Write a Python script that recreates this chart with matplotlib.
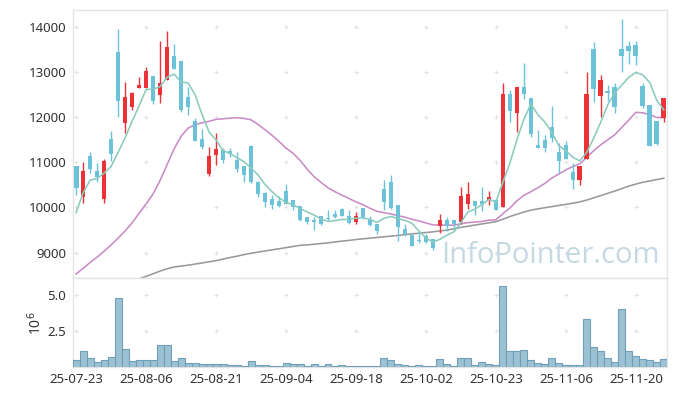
import matplotlib
matplotlib.use("Agg")
import matplotlib.pyplot as plt
import numpy as np

plt.rcParams['font.family'] = ['Noto Sans', 'DejaVu Sans']

# daily OHLC (trading days, 25-07-23 .. 25-11-26)
opens = [10918, 10236, 11147, 10806, 10184, 11517, 13451, 11880, 12236, 12658,
         12658, 12917, 12503, 12836, 13362, 13251, 12443, 11917, 11517, 10740,
         11162, 11273, 11243, 11051, 10925, 11362, 10569, 10325, 10184, 10140,
         10362, 10162, 10029, 9784, 9718, 9821, 9777, 9851, 9962, 9821,
         9673, 9984, 9718, 9629, 10406, 10562, 10051, 9533, 9384, 9273,
         9362, 9310, 9592, 9732, 9718, 9673, 10088, 10155, 10140, 10177,
         10177, 10014, 12517, 12103, 12673, 12429, 11392, 11495, 11792, 11236,
         11384, 10777, 10606, 11073, 13517, 12473, 12584, 12666, 13517, 13584,
         13614, 12695, 12273, 11917, 11991]
highs = [10930, 10999, 11236, 10977, 11073, 11695, 13954, 12777, 12570, 12888,
         13110, 12920, 13695, 13917, 13628, 13251, 12666, 11991, 11732, 11347,
         11658, 11310, 11310, 11236, 10925, 11384, 10590, 10347, 10273, 10251,
         10532, 10170, 10035, 9790, 9792, 9821, 9940, 9940, 9999, 9940,
         9910, 9984, 9807, 9629, 10606, 10717, 10051, 9629, 9384, 9481,
         9421, 9310, 9851, 9792, 9718, 10458, 10569, 10155, 10458, 10362,
         10199, 12754, 12606, 12680, 13214, 12429, 11717, 11606, 12260, 11421,
         11473, 10977, 10918, 12999, 13666, 12940, 12717, 12754, 14184, 13695,
         13703, 12770, 12273, 11917, 12429]
lows = [10273, 10103, 10755, 10569, 10103, 11036, 11999, 11658, 12162, 12658,
        12650, 12295, 12310, 12820, 13075, 12125, 12058, 11470, 11288, 10703,
        10940, 10977, 11110, 10792, 10555, 10533, 10236, 10014, 9977, 10014,
        10073, 9955, 9703, 9644, 9510, 9607, 9718, 9777, 9810, 9644,
        9644, 9755, 9584, 9421, 9940, 9970, 9251, 9362, 9147, 9214,
        9214, 9066, 9436, 9481, 9481, 9644, 9977, 9829, 9918, 10051,
        9940, 10000, 11888, 11666, 12399, 11555, 11320, 11236, 11458, 10755,
        11073, 10421, 10495, 11073, 12347, 11999, 12369, 12088, 13014, 13184,
        13162, 12199, 11362, 11384, 11903]
closes = [10436, 10806, 10858, 10680, 11029, 11184, 12369, 12451, 12540, 12717,
          13029, 12369, 12762, 13562, 13080, 12169, 12236, 11480, 11347, 11140,
          11288, 11051, 11184, 10851, 10717, 10569, 10295, 10118, 10051, 10029,
          10088, 10014, 9718, 9673, 9673, 9644, 9755, 9792, 9814, 9658,
          9807, 9792, 9607, 9481, 10125, 9992, 9570, 9407, 9147, 9258,
          9236, 9103, 9732, 9592, 9644, 10251, 10295, 10036, 10088, 10236,
          9940, 12517, 12147, 12673, 12517, 11629, 11325, 11325, 11532, 11036,
          11073, 10606, 10918, 12517, 12621, 12829, 12532, 12236, 13369, 13480,
          13369, 12258, 11362, 11406, 12429]

# volume, millions of shares
volumes = [0.51, 1.11, 0.63, 0.35, 0.49, 0.76, 4.79, 1.25, 0.42, 0.49,
           0.49, 0.49, 1.53, 1.53, 0.42, 0.63, 0.28, 0.28, 0.21, 0.21,
           0.21, 0.21, 0.14, 0.14, 0.07, 0.42, 0.14, 0.14, 0.07, 0.07,
           0.28, 0.21, 0.21, 0.07, 0.21, 0.07, 0.21, 0.07, 0.14, 0.07,
           0.07, 0.07, 0.07, 0.07, 0.69, 0.49, 0.21, 0.14, 0.07, 0.14,
           0.07, 0.07, 0.56, 0.21, 0.07, 0.69, 0.69, 0.14, 0.35, 0.21,
           0.14, 5.63, 1.11, 1.11, 1.18, 0.49, 0.28, 0.21, 0.69, 0.28,
           0.14, 0.14, 0.14, 3.33, 1.39, 1.11, 0.63, 0.35, 4.03, 1.11,
           0.83, 0.56, 0.49, 0.35, 0.56]

# moving averages
ma5 = [9888, 10325, 10606, 10643, 10762, 10911, 11224, 11543, 11915, 12252,
       12621, 12621, 12683, 12888, 12960, 12788, 12762, 12505, 12062, 11674,
       11498, 11261, 11202, 11103, 11018, 10874, 10723, 10510, 10350, 10212,
       10116, 10060, 9980, 9904, 9833, 9744, 9693, 9707, 9736, 9733,
       9765, 9773, 9736, 9669, 9762, 9799, 9755, 9715, 9648, 9475,
       9324, 9230, 9295, 9384, 9461, 9664, 9903, 9964, 10063, 10181,
       10119, 10563, 10986, 11503, 11959, 12297, 12058, 11894, 11666, 11369,
       11258, 11114, 11033, 11230, 11547, 11898, 12283, 12547, 12717, 12889,
       12997, 12942, 12768, 12375, 12165]
ma20 = [8525, 8650, 8780, 8900, 9030, 9170, 9320, 9480, 9660, 9870,
        10080, 10300, 10600, 10950, 11300, 11580, 11760, 11840, 11880, 11912,
        11955, 11967, 11983, 11992, 11976, 11946, 11842, 11725, 11601, 11466,
        11319, 11202, 11049, 10855, 10685, 10558, 10434, 10350, 10273, 10199,
        10125, 10062, 9983, 9915, 9885, 9856, 9820, 9785, 9739, 9701,
        9658, 9613, 9613, 9609, 9608, 9638, 9665, 9677, 9691, 9720,
        9727, 9863, 9990, 10149, 10269, 10351, 10439, 10535, 10654, 10743,
        10835, 10910, 10969, 11115, 11264, 11393, 11505, 11615, 11779, 11941,
        12113, 12100, 12060, 11997, 11993]
ma60_start = 8
ma60 = [8380, 8420, 8470, 8530, 8590, 8640, 8680, 8700, 8720, 8745,
        8770, 8795, 8820, 8855, 8890, 8920, 8955, 8985, 9010, 9035,
        9060, 9085, 9110, 9135, 9160, 9170, 9185, 9200, 9215, 9235,
        9255, 9270, 9290, 9305, 9320, 9335, 9350, 9365, 9380, 9400,
        9415, 9430, 9445, 9460, 9480, 9500, 9525, 9560, 9585, 9610,
        9635, 9660, 9685, 9740, 9800, 9850, 9900, 9940, 9970, 9995,
        10020, 10045, 10070, 10095, 10125, 10165, 10215, 10265, 10315, 10365,
        10420, 10475, 10520, 10560, 10590, 10620, 10650]

tick_labels = ['25-07-23', '25-08-06', '25-08-21', '25-09-04', '25-09-18',
               '25-10-02', '25-10-23', '25-11-06', '25-11-20']

UP = '#ec3237'
DOWN = '#6cc2d9'
GRID = '#e2e2e2'
SPINE = '#e4e4e4'
TXT = '#333333'

x = np.arange(len(closes))
o = np.array(opens); c = np.array(closes)
h = np.array(highs); l = np.array(lows)
up = c > o
cols = np.where(up, UP, DOWN)

fig = plt.figure(figsize=(6.77, 3.96), dpi=100)
ax = fig.add_axes([0.108, 0.298, 0.877, 0.677])
axv = fig.add_axes([0.108, 0.072, 0.877, 0.226], sharex=ax)

# candles
ax.vlines(x, l, h, colors=cols, linewidth=1.0, zorder=3)
body_lo = np.minimum(o, c)
body_h = np.maximum(np.abs(c - o), 15)
ax.bar(x, body_h, bottom=body_lo, width=0.68, color=cols, linewidth=0, zorder=4)

# moving averages
ax.plot(x, ma5, color='#8bcbbd', lw=1.15, zorder=5)
ax.plot(x, ma20, color='#c98bc6', lw=1.15, zorder=2)
ax.plot(np.arange(ma60_start, ma60_start + len(ma60)), ma60, color='#999999', lw=1.15, zorder=2)

ax.set_xlim(-0.43, 84.43)
ax.set_ylim(8436, 14384)
yt = [9000, 10000, 11000, 12000, 13000, 14000]
ax.set_yticks(yt)
ax.set_yticklabels([str(v) for v in yt])
xt = np.arange(0, 81, 10)
gx, gy = np.meshgrid(xt, yt)
ax.scatter(gx.ravel(), gy.ravel(), marker='+', s=12, color=GRID, linewidths=0.8, zorder=1)

ax.text(0.988, 0.085, 'InfoPointer.com', transform=ax.transAxes, ha='right', va='center',
        fontsize=21, color='#c5d9e3', family=['Open Sans', 'Noto Sans', 'DejaVu Sans'], zorder=6)

# volume
axv.bar(x, volumes, width=1.0, color='#9cc1d3', edgecolor='#6f9fb9', linewidth=0.8, zorder=3)
axv.set_ylim(0, 6.2)
axv.set_yticks([2.5, 5.0])
axv.set_yticklabels(['2.5', '5.0'])
gx2, gy2 = np.meshgrid(xt, [2.5, 5.0])
axv.scatter(gx2.ravel(), gy2.ravel(), marker='+', s=12, color=GRID, linewidths=0.8, zorder=1)
axv.set_ylabel('10$^6$', color=TXT, fontsize=10, labelpad=2)
axv.set_xticks(xt)
axv.set_xticklabels(tick_labels)

for a in (ax, axv):
    for s in a.spines.values():
        s.set_color(SPINE)
        s.set_linewidth(1.0)
    a.tick_params(length=0, labelsize=9.5, colors=TXT, pad=5)
ax.tick_params(labelbottom=False)
axv.tick_params(axis='x', pad=4)

fig.savefig('out.png', dpi=100)
